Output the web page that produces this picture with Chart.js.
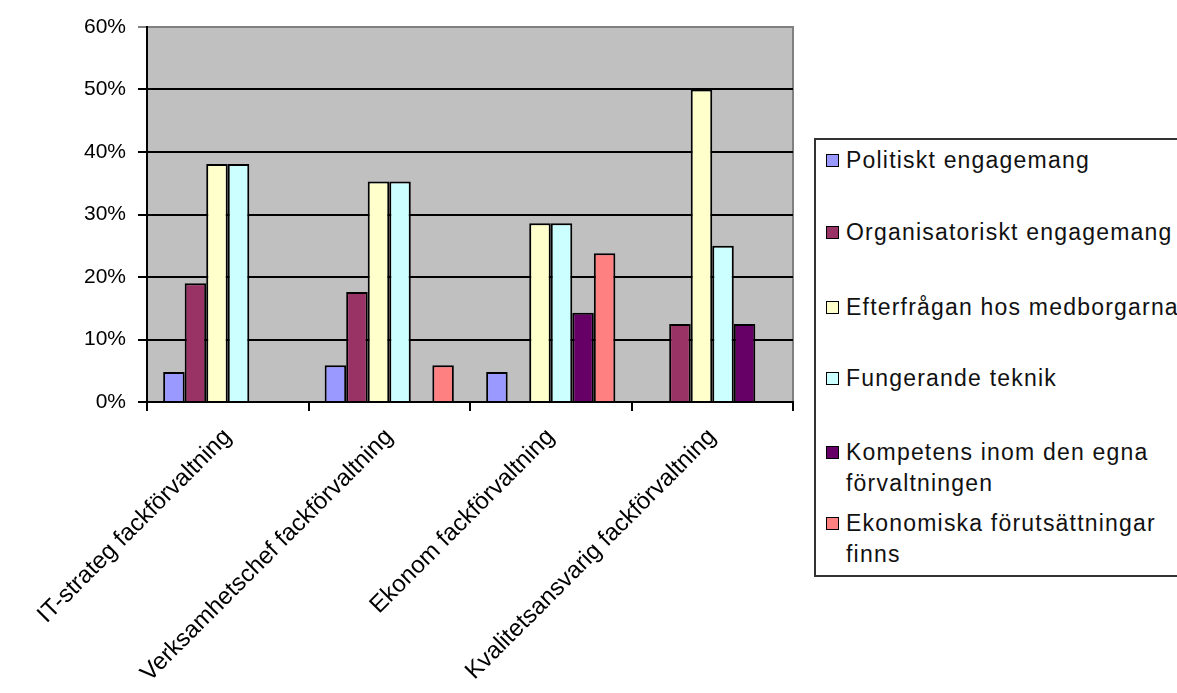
<!DOCTYPE html>
<html>
<head>
<meta charset="utf-8">
<script src="https://cdn.jsdelivr.net/npm/chart.js@4"></script>
<style>
    html, body { margin: 0; padding: 0; background: #fff; }
    #wrap { position: relative; width: 1177px; height: 693px; overflow: hidden; }
    #legend {
        position: absolute; left: 814px; top: 138px; width: 380px; height: 439px;
        border: 2px solid #333; box-sizing: border-box; background: #fff;
        font-family: "Liberation Sans", Arial, sans-serif; font-size: 23px; letter-spacing: 1.2px; color: #111;
    }
    .item { position: absolute; left: 10px; line-height: 31px; }
    .sw { position: absolute; left: 0; top: 9px; width: 11px; height: 11px; border: 1px solid #000; }
    .txt { margin-left: 20px; }
</style>
</head>
<body>
<div id="wrap">
    <canvas id="chart" width="1177" height="693"></canvas>
    <div id="legend"></div>
</div>
<script>
const categories = [
    "IT-strateg fackförvaltning",
    "Verksamhetschef fackförvaltning",
    "Ekonom fackförvaltning",
    "Kvalitetsansvarig fackförvaltning"
];

const seriesNames = [
    "Politiskt engagemang",
    "Organisatoriskt engagemang",
    "Efterfrågan hos medborgarna",
    "Fungerande teknik",
    "Kompetens inom den egna förvaltningen",
    "Ekonomiska förutsättningar finns"
];

const seriesColors = ["#9999ff", "#993366", "#ffffcc", "#ccffff", "#660066", "#ff8080"];

// percent per category, null = no bar
const politiskt = [4.8, 5.9, 4.8, null];
const organisatoriskt = [19.0, 17.6, null, 12.5];
const efterfragan = [38.1, 35.3, 28.6, 50.0];
const fungerande = [38.1, 35.3, 28.6, 25.0];
const kompetens = [null, null, 14.3, 12.5];
const ekonomiska = [null, 5.9, 23.8, null];

const yTicks = [0, 10, 20, 30, 40, 50, 60];

const allSeries = [politiskt, organisatoriskt, efterfragan, fungerande, kompetens, ekonomiska];

// legend rows: top of each row inside the box, text may wrap
const legendTops = [5, 77, 152, 223, 297, 368];
const legendLines = [
    ["Politiskt engagemang"],
    ["Organisatoriskt engagemang"],
    ["Efterfrågan hos medborgarna"],
    ["Fungerande teknik"],
    ["Kompetens inom den egna", "förvaltningen"],
    ["Ekonomiska förutsättningar", "finns"]
];

const plotBg = {
    id: "plotBg",
    beforeDraw(chart) {
        const { ctx, chartArea: a } = chart;
        ctx.save();
        ctx.fillStyle = "#c0c0c0";
        ctx.fillRect(a.left, a.top, a.right - a.left, a.bottom - a.top);
        ctx.strokeStyle = "#808080";
        ctx.lineWidth = 2;
        ctx.strokeRect(a.left, a.top, a.right - a.left, a.bottom - a.top);
        ctx.restore();
    }
};

const font = { family: "'Liberation Sans', Arial, sans-serif", size: 20 };

const chart = new Chart(document.getElementById("chart"), {
    type: "bar",
    data: {
        labels: categories,
        datasets: allSeries.map((vals, i) => ({
            label: seriesNames[i],
            data: vals,
            backgroundColor: seriesColors[i],
            borderColor: "#000",
            borderWidth: 2,
            categoryPercentage: 0.8,
            barPercentage: 1.0
        }))
    },
    options: {
        responsive: false,
        animation: false,
        layout: { padding: { top: 27, right: 384, left: 0, bottom: 0 } },
        plugins: {
            legend: { display: false },
            tooltip: { enabled: false }
        },
        scales: {
            x: {
                offset: true,
                grid: {
                    offset: true,
                    drawOnChartArea: false,
                    color: "#000",
                    lineWidth: 2,
                    tickLength: 9
                },
                border: { color: "#000", width: 2 },
                ticks: {
                    autoSkip: false,
                    minRotation: 45,
                    maxRotation: 45,
                    color: "#000",
                    font: { family: font.family, size: 24 },
                    padding: 12
                },
                afterFit(s) { s.height = 291; }
            },
            y: {
                min: 0,
                max: 60,
                afterBuildTicks(s) { s.ticks = yTicks.map(v => ({ value: v })); },
                grid: {
                    color: ctx => (ctx.tick && ctx.tick.value === 60 ? "#808080" : "#000"),
                    lineWidth: 2,
                    tickLength: 9
                },
                border: { color: "#000", width: 2 },
                ticks: {
                    color: "#000",
                    font: { family: font.family, size: 21 },
                    padding: 12,
                    callback: v => v + "%"
                },
                afterFit(s) { s.width = 147; }
            }
        }
    },
    plugins: [plotBg]
});

// html legend built from the datasets
const legend = document.getElementById("legend");
chart.data.datasets.forEach((ds, i) => {
    const item = document.createElement("div");
    item.className = "item";
    item.style.top = legendTops[i] + "px";
    const sw = document.createElement("div");
    sw.className = "sw";
    sw.style.background = ds.backgroundColor;
    const txt = document.createElement("div");
    txt.className = "txt";
    txt.innerHTML = legendLines[i].join("<br>");
    item.appendChild(sw);
    item.appendChild(txt);
    legend.appendChild(item);
});
</script>
</body>
</html>
